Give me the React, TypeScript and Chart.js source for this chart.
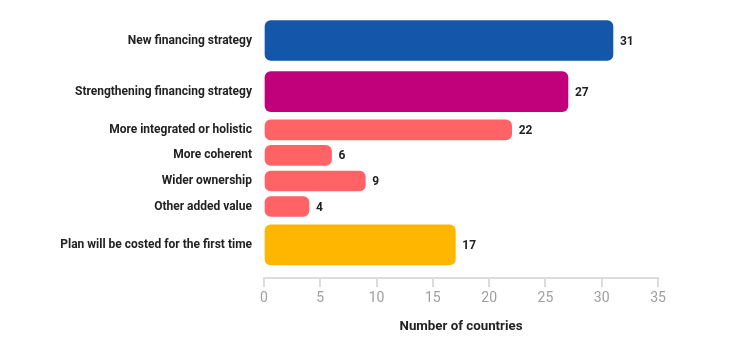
import React, { useEffect, useRef } from "react";
import { Chart, registerables } from "chart.js";

Chart.register(...registerables);

const categories = [
  "New financing strategy",
  "Strengthening financing strategy",
  "More integrated or holistic",
  "More coherent",
  "Wider ownership",
  "Other added value",
  "Plan will be costed for the first time",
];
const values = [31, 27, 22, 6, 9, 4, 17];
// 2 = main (thick) row, 1 = sub-item (thin) row
const rowWeights = [2, 2, 1, 1, 1, 1, 2];
const barColors = ["#1356aa", "#c1007c", "#ff6366", "#ff6366", "#ff6366", "#ff6366", "#ffb600"];
const xTicks = [0, 5, 10, 15, 20, 25, 30, 35];
const xTitle = "Number of countries";

const FONT = "Roboto, 'Noto Sans', sans-serif";

export default function App() {
  const ref = useRef<HTMLCanvasElement>(null);

  useEffect(() => {
    if (!ref.current) return;
    const positions: number[] = [];
    let acc = 0;
    rowWeights.forEach((w) => {
      positions.push(acc + w / 2);
      acc += w;
    });
    const totalSlots = acc;

    const makeData = (weight: number) =>
      values.map((v, i) => (rowWeights[i] === weight ? { x: v, y: positions[i] } : { x: null, y: positions[i] }));

    const valueLabels = {
      id: "valueLabels",
      afterDatasetsDraw(chart: any) {
        const ctx = chart.ctx;
        ctx.save();
        ctx.font = `bold 12px ${FONT}`;
        ctx.fillStyle = "#222222";
        ctx.textAlign = "left";
        ctx.textBaseline = "middle";
        chart.data.datasets.forEach((ds: any, di: number) => {
          const meta = chart.getDatasetMeta(di);
          meta.data.forEach((el: any, i: number) => {
            const raw = ds.data[i];
            if (!raw || raw.x == null) return;
            ctx.fillText(String(raw.x), el.x + 7, el.y + 1);
          });
        });
        ctx.restore();
      },
    };

    const chart = new Chart(ref.current, {
      type: "bar",
      data: {
        datasets: [
          {
            data: makeData(2) as any,
            backgroundColor: barColors,
            barThickness: 40,
            borderRadius: 6,
            borderSkipped: false,
            grouped: false,
          } as any,
          {
            data: makeData(1) as any,
            backgroundColor: barColors,
            barThickness: 20,
            borderRadius: 6,
            borderSkipped: false,
            grouped: false,
          } as any,
        ],
      },
      options: {
        indexAxis: "y",
        animation: false,
        responsive: false,
        maintainAspectRatio: false,
        layout: { padding: { top: 15, right: 82, bottom: 0, left: 0 } },
        plugins: {
          legend: { display: false },
          tooltip: { enabled: false },
        },
        scales: {
          y: {
            type: "linear",
            reverse: true,
            offset: false,
            min: 0,
            max: totalSlots + 0.3,
            afterFit(scale: any) {
              scale.width = 264;
              scale.paddingTop = 0;
              scale.paddingBottom = 0;
            },
            afterBuildTicks(scale: any) {
              scale.ticks = positions.map((p) => ({ value: p }));
            },
            grid: { display: false, drawTicks: false },
            border: { display: false },
            ticks: {
              autoSkip: false,
              padding: 12,
              color: "#222222",
              font: { family: FONT, size: 12, weight: "bold" as any },
              callback: (v: any) => {
                const idx = positions.indexOf(Number(v));
                return idx >= 0 ? categories[idx] : "";
              },
            },
          },
          x: {
            type: "linear",
            min: xTicks[0],
            max: xTicks[xTicks.length - 1],
            afterBuildTicks(scale: any) {
              scale.ticks = xTicks.map((v) => ({ value: v }));
            },
            afterFit(scale: any) {
              scale.height = 74;
            },
            grid: {
              drawOnChartArea: false,
              drawTicks: true,
              tickLength: 9,
              color: "#dcdcdc",
              lineWidth: 2,
            },
            border: { display: true, color: "#dcdcdc", width: 2 },
            ticks: {
              padding: 3,
              color: "#9e9e9e",
              font: { family: FONT, size: 14 },
            },
            title: {
              display: true,
              text: xTitle,
              color: "#222222",
              font: { family: FONT, size: 13.3, weight: "bold" as any },
              padding: { top: 4, bottom: 17 },
            },
          },
        },
      },
      plugins: [valueLabels],
    });
    return () => chart.destroy();
  }, []);

  return (
    <div style={{ position: "fixed", left: 0, top: 0, width: 740, height: 352, background: "#fff" }}>
      <canvas ref={ref} width={740} height={352} />
    </div>
  );
}
